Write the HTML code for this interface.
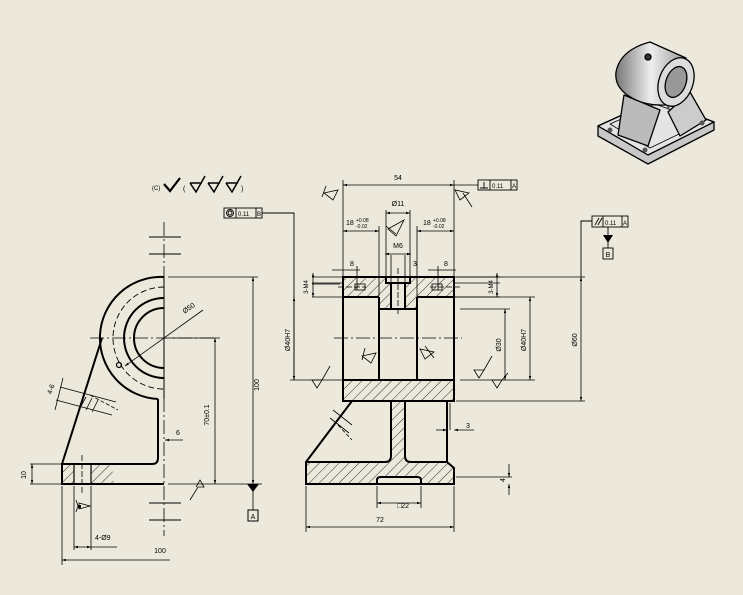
<!DOCTYPE html>
<html><head><meta charset="utf-8"><style>
html,body{margin:0;padding:0;background:#ece9dc;}
svg{display:block;}
text{font-family:"Liberation Sans",sans-serif;fill:#000;}
</style></head><body>
<svg width="743" height="595" viewBox="0 0 743 595" xmlns="http://www.w3.org/2000/svg">
<defs>
<pattern id="h" patternUnits="userSpaceOnUse" width="7" height="7" patternTransform="rotate(45)">
<line x1="0" y1="0" x2="0" y2="7" stroke="#000" stroke-width="0.8"/>
</pattern>
<marker id="a" markerWidth="6" markerHeight="6" refX="5" refY="3" orient="auto-start-reverse"><path d="M0,1.5 L5,3 L0,4.5z" fill="#000"/></marker>
<linearGradient id="g" x1="0" x2="1"><stop offset="0" stop-color="#777"/><stop offset="0.5" stop-color="#eee"/><stop offset="1" stop-color="#999"/></linearGradient>
</defs>
<rect width="743" height="595" fill="#ece9dc"/>

<!-- ===== LEFT VIEW ===== -->
<g fill="none" stroke="#000">
<line x1="164" y1="222" x2="164" y2="536" stroke-width="0.8" stroke-dasharray="14,3,2,3"/>
<line x1="90" y1="338" x2="216" y2="338" stroke-width="0.8" stroke-dasharray="14,3,2,3"/>
<g stroke-width="1"><line x1="149" y1="237" x2="181" y2="237"/><line x1="149" y1="254" x2="181" y2="254"/><line x1="149" y1="503" x2="181" y2="503"/><line x1="149" y1="520" x2="181" y2="520"/></g>
<g stroke-width="2">
<path d="M164,277 A61,61 0 0 0 158,399"/>
<path d="M158,399 L158,458 Q158,464 152,464 L62,464 L62,484 L164,484"/>
<line x1="62" y1="464" x2="102" y2="338"/>
<path d="M164,298 A40,40 0 0 0 164,378"/>
<path d="M164,308 A30,30 0 0 0 164,368"/>
<line x1="164" y1="277" x2="164" y2="399" stroke-width="1"/>
</g>
<path d="M164,287 A51,51 0 0 0 164,389" stroke-width="0.9" stroke-dasharray="6,3"/>
<line x1="74" y1="464" x2="74" y2="484" stroke-width="1.2"/>
<line x1="91" y1="464" x2="91" y2="484" stroke-width="1.2"/>
<line x1="82" y1="455" x2="82" y2="495" stroke-width="0.8" stroke-dasharray="6,2"/>
<circle cx="119" cy="365" r="2.5" stroke-width="1.2"/>
<!-- rib section / 4-6 dim -->
<g stroke-width="0.8">
<line x1="60" y1="387" x2="116" y2="402"/><line x1="56" y1="400" x2="112" y2="415"/>
<line x1="63" y1="378" x2="55" y2="410"/>
<line x1="86" y1="397" x2="80" y2="408"/><line x1="92" y1="398" x2="86" y2="410"/><line x1="98" y1="400" x2="92" y2="412"/>
</g>
<line x1="90" y1="395" x2="118" y2="410" stroke-width="0.8" stroke-dasharray="4,2"/>
</g>
<rect x="62" y="464" width="12" height="20" fill="url(#h)"/>
<path d="M91,464 L110,464 Q115,474 113,484 L91,484z" fill="url(#h)"/>
<g stroke="#000" stroke-width="0.8" fill="none">
<line x1="168" y1="277" x2="258" y2="277"/>
<line x1="253" y1="277" x2="253" y2="484" marker-start="url(#a)" marker-end="url(#a)"/>
<line x1="168" y1="484" x2="262" y2="484"/>
<line x1="170" y1="338" x2="220" y2="338"/>
<line x1="215" y1="338" x2="215" y2="484" marker-start="url(#a)" marker-end="url(#a)"/>
<line x1="253" y1="484" x2="253" y2="510"/>
<line x1="30" y1="464" x2="62" y2="464"/><line x1="30" y1="484" x2="62" y2="484"/>
<line x1="32" y1="464" x2="32" y2="484" marker-start="url(#a)" marker-end="url(#a)"/>
<line x1="62" y1="486" x2="62" y2="565"/>
<line x1="62" y1="560" x2="170" y2="560" marker-start="url(#a)"/>
<line x1="74" y1="486" x2="74" y2="550"/><line x1="91" y1="486" x2="91" y2="550"/>
<line x1="74" y1="547" x2="91" y2="547" marker-start="url(#a)" marker-end="url(#a)"/>
<line x1="91" y1="547" x2="117" y2="547"/>
<line x1="203" y1="310" x2="125" y2="366" marker-end="url(#a)"/>
<line x1="165" y1="440" x2="183" y2="440" marker-start="url(#a)"/>
<path d="M190,500 L198,487 L204,487 L200,480 L196,487"/>
</g>
<path d="M247,484 L259,484 L253,492z" fill="#000"/>
<rect x="248" y="510" width="10" height="11" fill="none" stroke="#000"/>
<text x="253" y="519" font-size="7" text-anchor="middle">A</text>
<text font-size="7" transform="translate(259,385) rotate(-90)" text-anchor="middle">100</text>
<text font-size="7" transform="translate(209,415) rotate(-90)" text-anchor="middle">70±0.1</text>
<text font-size="7" transform="translate(26,475) rotate(-90)" text-anchor="middle">10</text>
<text font-size="7" transform="translate(53,390) rotate(-70)" text-anchor="middle">4-6</text>
<text font-size="7" transform="translate(190,310) rotate(-35)" text-anchor="middle">Ø50</text>
<text x="160" y="553" font-size="7" text-anchor="middle">100</text>
<text x="95" y="540" font-size="7">4-Ø9</text>
<text x="176" y="435" font-size="7">6</text>
<path d="M76,500 L78,506 L76,512 M79,503 L90,506 L79,509z" fill="none" stroke="#000" stroke-width="0.8"/>
<rect x="78" y="505" width="3" height="3" fill="#000"/>
<text x="152" y="190" font-size="6">(C)</text>
<path d="M164,184 L170,191 L180,178" fill="none" stroke="#000" stroke-width="2.2"/>
<g fill="none" stroke="#000" stroke-width="1.5">
<path d="M190,183 L196,192 L205,176 M190,183 L202,183"/>
<path d="M208,183 L214,192 L223,176 M208,183 L220,183"/>
<path d="M226,183 L232,192 L241,176 M226,183 L238,183"/>
</g>
<text x="183" y="191" font-size="7">(</text><text x="241" y="191" font-size="7">)</text>
<g fill="none" stroke="#000" stroke-width="0.9">
<rect x="224" y="208" width="38" height="10"/>
<line x1="236" y1="208" x2="236" y2="218"/><line x1="256" y1="208" x2="256" y2="218"/>
<circle cx="230" cy="213" r="3.5"/><circle cx="230" cy="213" r="2"/>
<path d="M262,213 L294,213 L294,380"/>
</g>
<text x="238" y="216" font-size="6">0.11</text><text x="257" y="216" font-size="6">B</text>

<!-- ===== RIGHT VIEW ===== -->
<g fill="url(#h)">
<rect x="343" y="277" width="111" height="20"/>
<rect x="379" y="297" width="38" height="12"/>
<rect x="343" y="380" width="111" height="21"/>
<path d="M391,401 L405,401 L405,456 Q405,462 411,462 L447,462 L454,468 L454,484 L306,484 L306,462 L385,462 Q391,462 391,456z"/>
</g>
<rect x="386" y="277" width="24" height="6" fill="#ece9dc"/>
<rect x="391" y="283" width="14" height="26" fill="#ece9dc"/>
<rect x="377" y="477" width="44" height="7" fill="#ece9dc"/>
<g fill="none" stroke="#000" stroke-width="2">
<rect x="343" y="277" width="111" height="124"/>
<line x1="343" y1="297" x2="379" y2="297"/><line x1="417" y1="297" x2="454" y2="297"/>
<line x1="343" y1="380" x2="454" y2="380"/>
<line x1="379" y1="297" x2="379" y2="380"/><line x1="417" y1="297" x2="417" y2="380"/>
<line x1="379" y1="309" x2="417" y2="309"/>
<path d="M386,277 L386,283 L410,283 L410,277"/>
<path d="M391,283 L391,309 M405,283 L405,309"/>
<path d="M352,401 L306,462 L306,484 L454,484 L454,468 L447,462 L447,401"/>
<path d="M391,401 L391,456 Q391,462 385,462 L306,462"/>
<path d="M405,401 L405,456 Q405,462 411,462 L447,462"/>
<path d="M377,484 L377,480 Q377,477 381,477 L417,477 Q421,477 421,480 L421,484"/>
</g>
<g fill="none" stroke="#000" stroke-width="0.8">
<line x1="334" y1="338" x2="462" y2="338" stroke-dasharray="14,3,2,3"/>
<line x1="398" y1="268" x2="398" y2="315" stroke-dasharray="6,2"/>
<line x1="338" y1="287" x2="366" y2="287" stroke-dasharray="6,2"/><line x1="430" y1="287" x2="460" y2="287" stroke-dasharray="6,2"/>
<rect x="355" y="284" width="10" height="6"/><rect x="432" y="284" width="10" height="6"/>
<line x1="333" y1="410" x2="352" y2="425"/><line x1="330" y1="418" x2="349" y2="433"/>
<line x1="338" y1="425" x2="352" y2="440" stroke-dasharray="4,2"/>
<line x1="343" y1="276" x2="343" y2="180"/><line x1="454" y1="276" x2="454" y2="180"/>
<line x1="343" y1="185" x2="454" y2="185" marker-start="url(#a)" marker-end="url(#a)"/>
<line x1="454" y1="185" x2="478" y2="185"/>
<line x1="343" y1="231" x2="379" y2="231" marker-start="url(#a)" marker-end="url(#a)"/>
<line x1="417" y1="231" x2="454" y2="231" marker-start="url(#a)" marker-end="url(#a)"/>
<line x1="379" y1="226" x2="379" y2="296"/><line x1="417" y1="226" x2="417" y2="296"/>
<line x1="386" y1="210" x2="386" y2="276"/><line x1="410" y1="210" x2="410" y2="276"/>
<line x1="386" y1="213" x2="410" y2="213" marker-start="url(#a)" marker-end="url(#a)"/>
<line x1="391" y1="255" x2="391" y2="282"/><line x1="405" y1="255" x2="405" y2="282"/>
<line x1="385" y1="254" x2="411" y2="254" marker-start="url(#a)" marker-end="url(#a)"/>
<line x1="332" y1="270" x2="360" y2="270"/><line x1="357" y1="266" x2="357" y2="290" />
<line x1="428" y1="270" x2="456" y2="270"/><line x1="438" y1="266" x2="438" y2="290"/>
<line x1="312" y1="277" x2="343" y2="277"/><line x1="312" y1="283" x2="343" y2="283"/><line x1="312" y1="297" x2="343" y2="297"/>
<line x1="312" y1="284" x2="340" y2="284"/>
<line x1="313" y1="273" x2="313" y2="297" marker-start="url(#a)" marker-end="url(#a)"/>
<line x1="454" y1="277" x2="500" y2="277"/><line x1="454" y1="283" x2="500" y2="283"/><line x1="454" y1="297" x2="500" y2="297"/>
<line x1="497" y1="273" x2="497" y2="297" marker-start="url(#a)" marker-end="url(#a)"/>
<line x1="294" y1="297" x2="294" y2="380" marker-start="url(#a)" marker-end="url(#a)"/>
<line x1="290" y1="380" x2="343" y2="380"/>
<line x1="454" y1="297" x2="535" y2="297"/><line x1="460" y1="309" x2="510" y2="309"/>
<line x1="460" y1="380" x2="535" y2="380"/><line x1="456" y1="401" x2="585" y2="401"/>
<line x1="456" y1="277" x2="585" y2="277"/>
<line x1="505" y1="309" x2="505" y2="380" marker-start="url(#a)" marker-end="url(#a)"/>
<line x1="530" y1="297" x2="530" y2="380" marker-start="url(#a)" marker-end="url(#a)"/>
<line x1="581" y1="277" x2="581" y2="401" marker-start="url(#a)" marker-end="url(#a)"/>
<line x1="450" y1="403" x2="450" y2="430"/>
<line x1="436" y1="430" x2="447" y2="430" marker-end="url(#a)"/>
<line x1="454" y1="430" x2="474" y2="430" marker-start="url(#a)"/>
<line x1="456" y1="477" x2="512" y2="477"/>
<line x1="509" y1="464" x2="509" y2="477" marker-end="url(#a)"/><line x1="509" y1="484" x2="509" y2="495" marker-start="url(#a)"/>
<line x1="377" y1="486" x2="377" y2="508"/><line x1="421" y1="486" x2="421" y2="508"/>
<line x1="377" y1="503" x2="421" y2="503" marker-start="url(#a)" marker-end="url(#a)"/>
<line x1="306" y1="486" x2="306" y2="532"/><line x1="454" y1="486" x2="454" y2="532"/>
<line x1="306" y1="527" x2="454" y2="527" marker-start="url(#a)" marker-end="url(#a)"/>
<path d="M324,193 L338,190 L333,200z M326,186 L322,197"/>
<path d="M469,193 L455,190 L460,200z M463,193 L472,207"/>
<path d="M388,229 L404,220 L396,236z M386,226 L396,234"/>
<path d="M362,356 L376,353 L371,363z M365,348 L362,360"/>
<path d="M434,352 L420,349 L425,359z M425,346 L434,358"/>
<path d="M312,380 L322,380 L317,388z M322,380 L330,366"/>
<path d="M474,370 L484,370 L479,378z M484,370 L492,356"/>
<path d="M492,380 L502,380 L497,388z M502,380 L508,373"/>
</g>
<g font-size="7">
<text x="398" y="180" text-anchor="middle">54</text>
<text x="398" y="206" text-anchor="middle">Ø11</text>
<text x="346" y="225">18</text><text x="356" y="222" font-size="5">+0.08</text><text x="356" y="228" font-size="5">-0.02</text>
<text x="423" y="225">18</text><text x="433" y="222" font-size="5">+0.08</text><text x="433" y="228" font-size="5">-0.02</text>
<text x="398" y="248" text-anchor="middle">M6</text>
<text x="350" y="266">8</text><text x="444" y="266">8</text>
<text x="413" y="266">3</text>
<text x="403" y="508" text-anchor="middle">□22</text>
<text x="380" y="522" text-anchor="middle">72</text>
<text x="466" y="428">3</text>
<text transform="translate(290,340) rotate(-90)" text-anchor="middle">Ø40H7</text>
<text transform="translate(501,345) rotate(-90)" text-anchor="middle">Ø30</text>
<text transform="translate(526,340) rotate(-90)" text-anchor="middle">Ø40H7</text>
<text transform="translate(577,340) rotate(-90)" text-anchor="middle">Ø60</text>
<text transform="translate(308,287) rotate(-90)" text-anchor="middle" font-size="6">3-M4</text>
<text transform="translate(493,287) rotate(-90)" text-anchor="middle" font-size="6">3-M4</text>
<text transform="translate(505,480) rotate(-90)" text-anchor="middle">4</text>
</g>
<g fill="none" stroke="#000" stroke-width="0.9">
<rect x="478" y="180" width="39" height="10"/>
<line x1="490" y1="180" x2="490" y2="190"/><line x1="511" y1="180" x2="511" y2="190"/>
<path d="M480,188 L488,188 M484,182 L484,188"/>
<rect x="592" y="216" width="36" height="11"/>
<line x1="603" y1="216" x2="603" y2="227"/><line x1="622" y1="216" x2="622" y2="227"/>
<path d="M595,225 L599,218 M598,225 L602,218"/>
<path d="M592,221 L581,221 L581,277"/>
<line x1="608" y1="227" x2="608" y2="248"/>
<rect x="603" y="248" width="10" height="11"/>
</g>
<path d="M603,235 L613,235 L608,243z" fill="#000"/>
<text x="492" y="188" font-size="6">0.11</text><text x="512" y="188" font-size="6">A</text>
<text x="605" y="225" font-size="6">0.11</text><text x="623" y="225" font-size="6">A</text>
<text x="608" y="257" font-size="7" text-anchor="middle">B</text>

<!-- ===== ISO VIEW ===== -->
<g stroke="#000" stroke-width="1.3" stroke-linejoin="round">
<path d="M598,126 L655,100 L714,122 L714,130 L648,164 L598,136z" fill="#c8c8c8"/>
<path d="M598,126 L655,100 L714,122 L648,155z" fill="#e4e4e4"/>
<path d="M610,124 L655,104 L704,122 L650,148z" fill="none" stroke-width="0.8"/>
<path d="M624,95 L618,135 L648,146 L660,110z" fill="#bbb"/>
<path d="M668,112 L690,92 L706,120 L680,136z" fill="#ccc"/>
<path d="M616,72 Q620,50 650,42 L686,58 L676,104 Q650,108 632,98 Q614,88 616,72z" fill="url(#g)"/>
<ellipse cx="676" cy="82" rx="17" ry="25" transform="rotate(20 676 82)" fill="#ddd"/>
<ellipse cx="676" cy="82" rx="10" ry="16" transform="rotate(20 676 82)" fill="#999"/>
<circle cx="648" cy="57" r="3" fill="#333"/>
</g>
<g fill="#555"><circle cx="610" cy="130" r="2.5"/><circle cx="645" cy="150" r="2.5"/><circle cx="702" cy="123" r="2.5"/><circle cx="668" cy="108" r="1.5"/></g>
</svg>
</body></html>
